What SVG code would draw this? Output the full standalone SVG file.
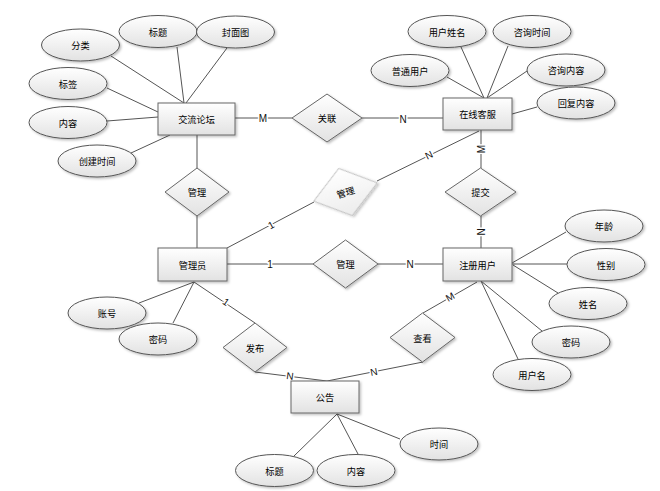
<svg xmlns="http://www.w3.org/2000/svg" width="660" height="491" viewBox="0 0 660 491">
<defs>
<linearGradient id="g" x1="0" y1="0" x2="0" y2="1"><stop offset="0" stop-color="#ffffff"/><stop offset="1" stop-color="#e2e2e2"/></linearGradient>
<linearGradient id="g2" x1="0" y1="0" x2="0" y2="1"><stop offset="0" stop-color="#ffffff"/><stop offset="1" stop-color="#ececec"/></linearGradient>
<filter id="sh" x="-20%" y="-20%" width="150%" height="160%"><feDropShadow dx="1.5" dy="1.5" stdDeviation="1" flood-color="#000" flood-opacity="0.25"/></filter>
<style>
.e{fill:url(#g);stroke:#666;stroke-width:1;filter:url(#sh)}
.a{fill:url(#g);stroke:#555;stroke-width:1;filter:url(#sh)}
.r{fill:url(#g);stroke:#666;stroke-width:1;filter:url(#sh)}
.rg{fill:url(#g2);stroke:#bbb;stroke-width:1;filter:url(#sh)}
.t{font-family:"Noto Sans CJK SC","Liberation Sans",sans-serif;font-size:9.2px;fill:#000;text-anchor:middle;dominant-baseline:central}
.c line{stroke:#555;stroke-width:1;fill:none}
.l{font-family:"Liberation Sans",sans-serif;font-size:10px;fill:#111;text-anchor:middle;dominant-baseline:central;stroke:#fff;stroke-width:3px;paint-order:stroke;stroke-linejoin:round}
</style>
</defs>
<rect width="660" height="491" fill="#fff"/>
<g id="connectors" class="c">
<line x1="111" y1="56" x2="184" y2="103"/>
<line x1="177" y1="47" x2="184" y2="103"/>
<line x1="227" y1="48" x2="186" y2="103"/>
<line x1="107" y1="88" x2="158" y2="112"/>
<line x1="107" y1="121" x2="158" y2="117"/>
<line x1="131" y1="153" x2="170" y2="135"/>
<line x1="447" y1="77" x2="484" y2="98"/>
<line x1="461" y1="47" x2="484" y2="98"/>
<line x1="508" y1="46" x2="487" y2="98"/>
<line x1="527" y1="71" x2="487" y2="98"/>
<line x1="537" y1="107" x2="512" y2="114"/>
<line x1="139" y1="303" x2="194" y2="282"/>
<line x1="173" y1="323" x2="194" y2="282"/>
<line x1="512" y1="263" x2="566" y2="232"/>
<line x1="512" y1="264" x2="567" y2="264"/>
<line x1="513" y1="265" x2="558" y2="293"/>
<line x1="481" y1="281" x2="542" y2="331"/>
<line x1="481" y1="281" x2="518" y2="359"/>
<line x1="337" y1="414" x2="294" y2="456"/>
<line x1="337" y1="414" x2="358" y2="454"/>
<line x1="337" y1="414" x2="400" y2="439"/>
<line x1="235" y1="118" x2="292" y2="118"/>
<line x1="362" y1="118" x2="443" y2="118"/>
<line x1="197" y1="135" x2="197" y2="168"/>
<line x1="197" y1="216" x2="197" y2="248"/>
<line x1="481" y1="130" x2="481" y2="168"/>
<line x1="481" y1="216" x2="481" y2="248"/>
<line x1="479" y1="131" x2="377" y2="181"/>
<line x1="314" y1="202" x2="227" y2="248"/>
<line x1="227" y1="264" x2="313" y2="264"/>
<line x1="378" y1="264" x2="443" y2="264"/>
<line x1="194" y1="282" x2="255" y2="323"/>
<line x1="255" y1="372" x2="327" y2="381"/>
<line x1="423" y1="313" x2="477" y2="282"/>
<line x1="423" y1="362" x2="327" y2="381"/>
<text class="l" x="263" y="118">M</text>
<text class="l" x="403" y="119">N</text>
<text class="l" transform="translate(481,149) rotate(-90)">M</text>
<text class="l" transform="translate(481,232) rotate(-90)">N</text>
<text class="l" transform="translate(429,155) rotate(-26)">N</text>
<text class="l" transform="translate(271,225) rotate(-28)">1</text>
<text class="l" x="270" y="264">1</text>
<text class="l" x="410" y="264">N</text>
<text class="l" transform="translate(226,302) rotate(34)">1</text>
<text class="l" transform="translate(290,376) rotate(7)">N</text>
<text class="l" transform="translate(450,297) rotate(-30)">M</text>
<text class="l" transform="translate(374,372) rotate(-11)">N</text>
</g>
<g id="e-forum"><rect class="e" x="158" y="103" width="77" height="32"/><text class="t" x="196.5" y="119">交流论坛</text></g>
<g id="e-service"><rect class="e" x="443" y="98" width="69" height="32"/><text class="t" x="477.5" y="114">在线客服</text></g>
<g id="e-admin"><rect class="e" x="158" y="248" width="69" height="33"/><text class="t" x="192.5" y="264.5">管理员</text></g>
<g id="e-user"><rect class="e" x="443" y="248" width="69" height="33"/><text class="t" x="477.5" y="264.5">注册用户</text></g>
<g id="e-notice"><rect class="e" x="291" y="381" width="68" height="32"/><text class="t" x="325" y="397">公告</text></g>
<g id="a-fl"><ellipse class="a" cx="80.5" cy="45" rx="39" ry="16"/><text class="t" x="80.5" y="45">分类</text></g>
<g id="a-bt"><ellipse class="a" cx="158" cy="31.5" rx="39" ry="16"/><text class="t" x="158" y="31.5">标题</text></g>
<g id="a-fmt"><ellipse class="a" cx="235.5" cy="32" rx="39" ry="16"/><text class="t" x="235.5" y="32">封面图</text></g>
<g id="a-bq"><ellipse class="a" cx="68" cy="83.5" rx="39" ry="16"/><text class="t" x="68" y="83.5">标签</text></g>
<g id="a-nr"><ellipse class="a" cx="68" cy="122.5" rx="39" ry="16"/><text class="t" x="68" y="122.5">内容</text></g>
<g id="a-cjsj"><ellipse class="a" cx="97" cy="161" rx="39" ry="16"/><text class="t" x="97" y="161">创建时间</text></g>
<g id="a-yhxm"><ellipse class="a" cx="447" cy="31.5" rx="39" ry="16"/><text class="t" x="447" y="31.5">用户姓名</text></g>
<g id="a-zxsj"><ellipse class="a" cx="532" cy="31.5" rx="39" ry="16"/><text class="t" x="532" y="31.5">咨询时间</text></g>
<g id="a-ptyh"><ellipse class="a" cx="410" cy="70.5" rx="39" ry="16"/><text class="t" x="410" y="70.5">普通用户</text></g>
<g id="a-zxnr"><ellipse class="a" cx="566" cy="70" rx="39" ry="16"/><text class="t" x="566" y="70">咨询内容</text></g>
<g id="a-hfnr"><ellipse class="a" cx="576" cy="103" rx="39" ry="16"/><text class="t" x="576" y="103">回复内容</text></g>
<g id="a-zh"><ellipse class="a" cx="107" cy="313" rx="39" ry="16"/><text class="t" x="107" y="313">账号</text></g>
<g id="a-mm1"><ellipse class="a" cx="158" cy="339" rx="39" ry="16"/><text class="t" x="158" y="339">密码</text></g>
<g id="a-nl"><ellipse class="a" cx="604" cy="226" rx="39" ry="16"/><text class="t" x="604" y="226">年龄</text></g>
<g id="a-xb"><ellipse class="a" cx="606" cy="264.5" rx="39" ry="16"/><text class="t" x="606" y="264.5">性别</text></g>
<g id="a-xm"><ellipse class="a" cx="588" cy="303.5" rx="39" ry="16"/><text class="t" x="588" y="303.5">姓名</text></g>
<g id="a-mm2"><ellipse class="a" cx="571" cy="342" rx="39" ry="16"/><text class="t" x="571" y="342">密码</text></g>
<g id="a-yhm"><ellipse class="a" cx="532" cy="374.5" rx="39" ry="16"/><text class="t" x="532" y="374.5">用户名</text></g>
<g id="a-bt2"><ellipse class="a" cx="274.5" cy="470.5" rx="39" ry="16"/><text class="t" x="274.5" y="470.5">标题</text></g>
<g id="a-nr2"><ellipse class="a" cx="356" cy="470.5" rx="39" ry="16"/><text class="t" x="356" y="470.5">内容</text></g>
<g id="a-sj"><ellipse class="a" cx="439" cy="444" rx="39" ry="16"/><text class="t" x="439" y="444">时间</text></g>
<g id="r-gl"><polygon class="r" points="292,118 327,94 362,118 327,142"/><text class="t" x="327" y="118">关联</text></g>
<g id="r-gl1"><polygon class="r" points="165,192 197,168 229,192 197,216"/><text class="t" x="197" y="192">管理</text></g>
<g id="r-tj"><polygon class="r" points="445,192 480.5,168 516,192 480.5,216"/><text class="t" x="480.5" y="192">提交</text></g>
<g id="r-gl2" transform="translate(345.5,192) rotate(-16)"><polygon class="rg" points="-33,0 0,-24.5 33,0 0,24.5"/><text class="t" x="0" y="0">管理</text></g>
<g id="r-gl3"><polygon class="r" points="313,264 345.5,240 378,264 345.5,288"/><text class="t" x="345.5" y="264">管理</text></g>
<g id="r-fb"><polygon class="r" points="223,347.5 255,323 287,347.5 255,372"/><text class="t" x="255" y="347.5">发布</text></g>
<g id="r-ck"><polygon class="r" points="390,337.5 422.5,313 455,337.5 422.5,362"/><text class="t" x="422.5" y="337.5">查看</text></g>
</svg>
